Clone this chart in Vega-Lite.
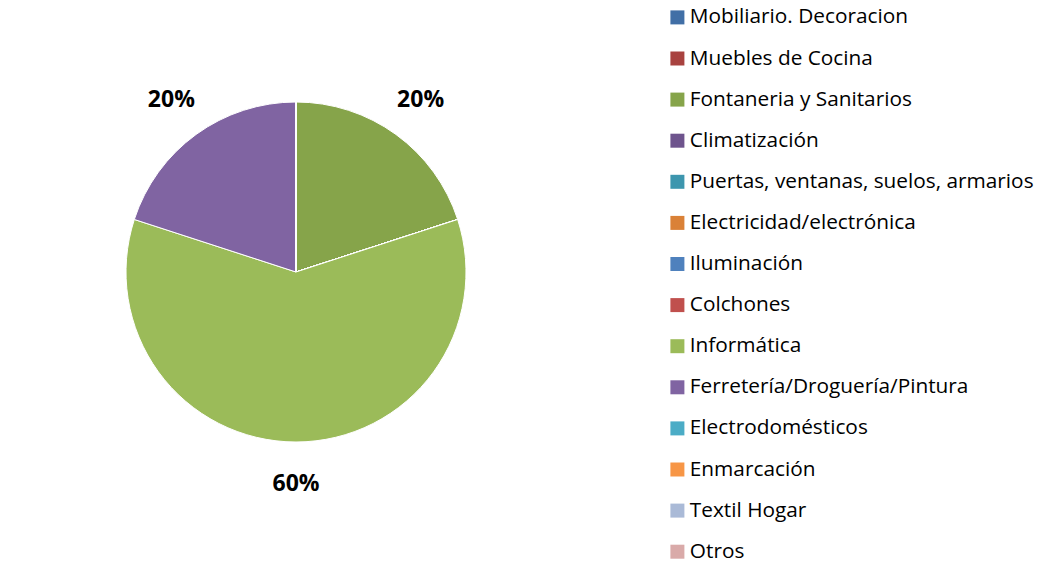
{
  "$schema": "https://vega.github.io/schema/vega-lite/v6.json",
  "width": 592,
  "height": 544,
  "padding": 0,
  "autosize": {"type": "pad"},
  "background": "white",
  "config": {"view": {"stroke": null}, "font": "Open Sans"},
  "data": {
    "values": [
      {"idx": 1, "categoria": "Mobiliario. Decoracion", "valor": 0},
      {"idx": 2, "categoria": "Muebles de Cocina", "valor": 0},
      {"idx": 3, "categoria": "Fontaneria y Sanitarios", "valor": 0.2},
      {"idx": 4, "categoria": "Climatización", "valor": 0},
      {"idx": 5, "categoria": "Puertas, ventanas, suelos, armarios", "valor": 0},
      {"idx": 6, "categoria": "Electricidad/electrónica", "valor": 0},
      {"idx": 7, "categoria": "Iluminación", "valor": 0},
      {"idx": 8, "categoria": "Colchones", "valor": 0},
      {"idx": 9, "categoria": "Informática", "valor": 0.6},
      {"idx": 10, "categoria": "Ferretería/Droguería/Pintura", "valor": 0.2},
      {"idx": 11, "categoria": "Electrodomésticos", "valor": 0},
      {"idx": 12, "categoria": "Enmarcación", "valor": 0},
      {"idx": 13, "categoria": "Textil Hogar", "valor": 0},
      {"idx": 14, "categoria": "Otros", "valor": 0}
    ]
  },
  "layer": [
    {
      "mark": {"type": "arc", "outerRadius": 170, "stroke": "white", "strokeWidth": 1},
      "encoding": {
        "theta": {"field": "valor", "type": "quantitative", "stack": true},
        "order": {"field": "idx", "type": "quantitative"},
        "color": {
          "field": "categoria",
          "type": "nominal",
          "sort": null,
          "scale": {
            "domain": ["Mobiliario. Decoracion", "Muebles de Cocina", "Fontaneria y Sanitarios", "Climatización", "Puertas, ventanas, suelos, armarios", "Electricidad/electrónica", "Iluminación", "Colchones", "Informática", "Ferretería/Droguería/Pintura", "Electrodomésticos", "Enmarcación", "Textil Hogar", "Otros"],
            "range": ["#416FA6", "#A8423F", "#86A44A", "#6E548D", "#3D96AE", "#DA8137", "#4F81BD", "#C0504D", "#9BBB59", "#8064A2", "#4BACC6", "#F79646", "#AABAD7", "#D9AAA9"]
          },
          "legend": {
            "title": null,
            "orient": "none",
            "legendX": 667,
            "legendY": 7,
            "symbolType": "square",
            "symbolSize": 196,
            "symbolStrokeWidth": 0,
            "labelFont": "Open Sans",
            "labelFontSize": 20.8,
            "labelColor": "#000000",
            "labelOffset": 2,
            "labelLimit": 400,
            "rowPadding": 19.1,
            "padding": 0,
            "offset": 0
          }
        }
      }
    },
    {
      "transform": [{"filter": "datum.valor > 0"}],
      "mark": {"type": "text", "radius": 212, "font": "Open Sans", "fontSize": 23, "fontWeight": "bold", "color": "#000000"},
      "encoding": {
        "theta": {"field": "valor", "type": "quantitative", "stack": true},
        "order": {"field": "idx", "type": "quantitative"},
        "text": {"field": "valor", "type": "quantitative", "format": ".0%"}
      }
    }
  ]
}
